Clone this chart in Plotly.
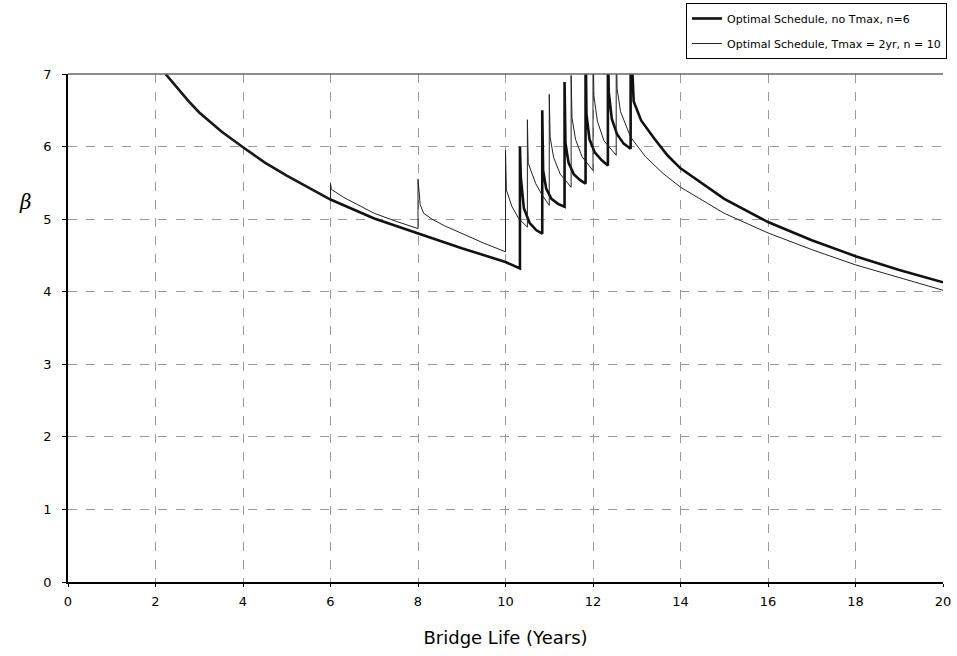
import plotly.graph_objects as go

# Optimal Schedule, no Tmax, n=6 (thick)
thick_x = [2.23, 2.5, 2.75, 3, 3.5, 4, 4.5, 5, 5.5, 6, 7, 8, 9, 10, 10.33,
           10.33, 10.35, 10.42, 10.55, 10.7, 10.84,
           10.84, 10.86, 10.93, 11.05, 11.2, 11.35,
           11.35, 11.37, 11.44, 11.56, 11.7, 11.83,
           11.83, 11.85, 11.92, 12.04, 12.2, 12.34,
           12.34, 12.36, 12.43, 12.55, 12.7, 12.86,
           12.86, 12.93, 13.1, 13.4, 13.7, 14, 15, 16, 17, 18, 19, 20]
thick_y = [7.0, 6.80, 6.63, 6.47, 6.21, 5.99, 5.78, 5.6, 5.43, 5.27, 5.01, 4.80, 4.60, 4.41, 4.32,
           6.00, 5.58, 5.15, 4.95, 4.85, 4.80,
           6.50, 5.67, 5.42, 5.28, 5.21, 5.17,
           6.89, 6.05, 5.78, 5.62, 5.54, 5.49,
           7.6, 6.45, 6.10, 5.92, 5.81, 5.74,
           7.6, 6.75, 6.38, 6.17, 6.04, 5.97,
           7.6, 6.62, 6.36, 6.11, 5.88, 5.70, 5.28, 4.96, 4.71, 4.49, 4.30, 4.13]

# Optimal Schedule, Tmax = 2yr, n = 10 (thin)
thin_x = [2.23, 2.5, 2.75, 3, 3.5, 4, 4.5, 5, 5.5, 6.0,
          6.0, 6.02, 6.3, 6.7, 7, 7.5, 8.0,
          8.0, 8.02, 8.05, 8.13, 8.32, 8.6, 9.0, 9.5, 10.0,
          10.0, 10.02, 10.15, 10.3, 10.5,
          10.5, 10.52, 10.69, 10.84, 11.0,
          11.0, 11.02, 11.1, 11.25, 11.5,
          11.5, 11.52, 11.6, 11.75, 12.0,
          12.0, 12.02, 12.1, 12.25, 12.53,
          12.53, 12.55, 12.63, 12.86, 13.2, 13.6, 14, 15, 16, 17, 18, 19, 20]
thin_y = [7.0, 6.80, 6.63, 6.47, 6.21, 5.99, 5.78, 5.6, 5.43, 5.27,
          5.49, 5.41, 5.30, 5.17, 5.08, 4.97, 4.87,
          5.55, 5.36, 5.20, 5.08, 5.00, 4.91, 4.80, 4.67, 4.55,
          5.95, 5.40, 5.17, 5.01, 4.89,
          6.37, 5.77, 5.49, 5.33, 5.19,
          6.72, 6.13, 5.85, 5.62, 5.44,
          6.98, 6.40, 6.10, 5.86, 5.67,
          7.6, 6.70, 6.35, 6.08, 5.88,
          7.6, 6.80, 6.48, 6.13, 5.86, 5.63, 5.44, 5.08, 4.81, 4.58, 4.37, 4.19, 4.02]

x_ticks = [0, 2, 4, 6, 8, 10, 12, 14, 16, 18, 20]
y_ticks = [0, 1, 2, 3, 4, 5, 6, 7]

font_main = "DejaVu Sans, Verdana, sans-serif"

fig = go.Figure()
fig.add_trace(go.Scatter(x=thick_x, y=thick_y, mode="lines",
                         name="Optimal Schedule, no Tmax, n=6", legendgroup="a",
                         line=dict(color="#111111", width=2.6)))
fig.add_trace(go.Scatter(x=thin_x, y=thin_y, mode="lines",
                         name="Optimal Schedule, Tmax = 2yr, n = 10", legendgroup="b",
                         line=dict(color="#222222", width=1)))

fig.update_layout(
    width=957, height=656,
    margin=dict(l=68, r=14, t=74, b=74, autoexpand=False),
    paper_bgcolor="white", plot_bgcolor="white",
    font=dict(family=font_main, size=13, color="black"),
    showlegend=True,
    legend=dict(x=1.0046, y=1.1398, xanchor="right", yanchor="top",
                bordercolor="black", borderwidth=1, bgcolor="white",
                font=dict(size=11, family=font_main),
                tracegroupgap=6, itemwidth=30),
    xaxis=dict(range=[0, 20], tickvals=x_ticks, ticktext=[str(v) for v in x_ticks],
               showgrid=True, gridcolor="#999999", griddash="dash", gridwidth=1,
               showline=True, linecolor="black", linewidth=1.5,
               ticks="outside", ticklen=3, tickcolor="black",
               zeroline=False, automargin=False, ticklabelstandoff=4,
               tickfont=dict(size=13),
               title=dict(text="Bridge Life (Years)", font=dict(size=18), standoff=23)),
    yaxis=dict(range=[0, 7], tickvals=y_ticks, ticktext=[str(v) for v in y_ticks],
               showgrid=True, gridcolor="#999999", griddash="dash", gridwidth=1,
               showline=True, linecolor="black", linewidth=1.5,
               ticks="outside", ticklen=4, tickcolor="black",
               zeroline=False, automargin=False, ticklabelstandoff=8,
               tickfont=dict(size=13)),
)
fig.add_shape(type="line", xref="paper", yref="paper", x0=0, x1=1, y0=1, y1=1,
              line=dict(color="#666666", width=1.5))
fig.add_annotation(text="<i>β</i>", xref="paper", yref="paper", x=-0.058, y=0.775,
                   showarrow=False, font=dict(family="DejaVu Serif, serif", size=20, color="black"))

fig.write_html("out.html", config={"displayModeBar": False},
               post_script="document.body.style.margin='0';document.body.style.padding='0';")
